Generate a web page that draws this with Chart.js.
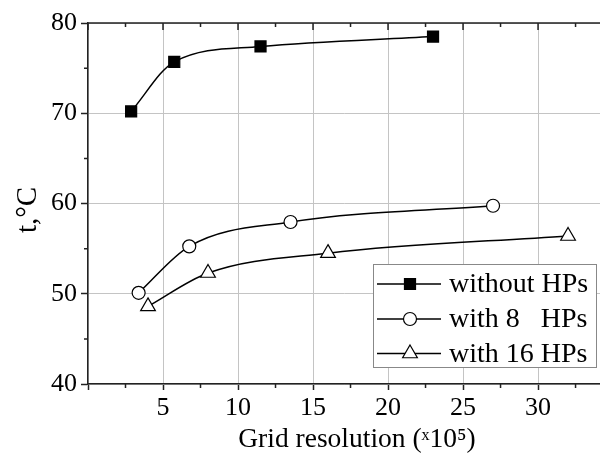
<!DOCTYPE html>
<html><head><meta charset="utf-8">
<script src="https://cdn.jsdelivr.net/npm/chart.js@4/dist/chart.umd.min.js"></script>
<style>html,body{margin:0;padding:0;background:#fff;overflow:hidden}#wrap{width:600px;height:454px;position:relative}</style>
</head><body><div id="wrap"><canvas id="c" width="600" height="454"></canvas></div>
<script>
// ---- data ----
const seriesNames = ['without HPs', 'with 8   HPs', 'with 16 HPs'];
const xWithout = [2.875, 5.75, 11.5, 23];
const yWithout = [70.2, 75.7, 77.4, 78.5];
const xWith8 = [3.375, 6.75, 13.5, 27];
const yWith8 = [50.1, 55.25, 57.95, 59.75];
const xWith16 = [4, 8, 16, 32];
const yWith16 = [48.6, 52.3, 54.5, 56.4];
const xTicks = [0, 5, 10, 15, 20, 25, 30];
const xMinorTicks = [2.5, 7.5, 12.5, 17.5, 22.5, 27.5, 32.5];
const yTicks = [40, 50, 60, 70, 80];
const yMinorTicks = [45, 55, 65, 75];
const xTitle = 'Grid resolution (\u02E310\u2075)';
const yTitle = 't,\u00B0C';

const FONT = '"Liberation Serif", "Times New Roman", serif';
const AXIS = '#222';
const GRID = '#c4c4c4';

function pts(xs, ys) { return xs.map((v, i) => ({ x: v, y: ys[i] })); }

const styles = [
  { pointStyle: 'rect', radius: 7.8, fill: '#000' },
  { pointStyle: 'circle', radius: 6.5, fill: '#fff' },
  { pointStyle: 'triangle', radius: 8.5, fill: '#fff' }
];
const seriesData = [pts(xWithout, yWithout), pts(xWith8, yWith8), pts(xWith16, yWith16)];

const datasets = seriesData.map((d, i) => ({
  label: seriesNames[i],
  data: d,
  borderColor: '#000',
  borderWidth: 1.5,
  cubicInterpolationMode: 'monotone',
  pointStyle: styles[i].pointStyle,
  pointRadius: styles[i].radius,
  pointHoverRadius: styles[i].radius,
  pointBackgroundColor: styles[i].fill,
  pointBorderColor: '#000',
  pointBorderWidth: 1.2,
  fill: false
}));

function drawMarker(ctx, st, x, y) {
  ctx.fillStyle = st.fill;
  ctx.strokeStyle = '#000';
  ctx.lineWidth = 1.2;
  if (Chart.helpers && Chart.helpers.drawPoint) {
    Chart.helpers.drawPoint(ctx, { pointStyle: st.pointStyle, radius: st.radius, borderWidth: 1.2, rotation: 0 }, x, y);
  }
}

const decor = {
  id: 'decor',
  afterDraw(chart) {
    const { ctx, chartArea: a, scales: { x, y } } = chart;
    ctx.save();
    ctx.strokeStyle = AXIS;
    ctx.lineWidth = 1.5;
    ctx.beginPath();
    ctx.moveTo(a.left - 0.75, a.top); ctx.lineTo(a.right, a.top);
    xTicks.forEach(v => { const p = x.getPixelForValue(v); ctx.moveTo(p, a.top); ctx.lineTo(p, a.top + 7); });
    xMinorTicks.forEach(v => { const p = x.getPixelForValue(v); if (p <= a.right) { ctx.moveTo(p, a.top); ctx.lineTo(p, a.top + 4); ctx.moveTo(p, a.bottom); ctx.lineTo(p, a.bottom + 4); } });
    yMinorTicks.forEach(v => { const p = y.getPixelForValue(v); ctx.moveTo(a.left, p); ctx.lineTo(a.left - 4, p); });
    ctx.stroke();

    // legend
    const L = { left: 373, top: 264, right: 596, bottom: 367 };
    ctx.fillStyle = '#fff';
    ctx.fillRect(L.left, L.top, L.right - L.left, L.bottom - L.top);
    ctx.strokeStyle = '#888';
    ctx.lineWidth = 1;
    ctx.strokeRect(L.left + 0.5, L.top + 0.5, L.right - L.left, L.bottom - L.top);
    const rows = [284, 319, 353.5];
    ctx.font = '28px ' + FONT;
    ctx.textBaseline = 'middle';
    ctx.textAlign = 'left';
    rows.forEach((ry, i) => {
      ctx.strokeStyle = '#000';
      ctx.lineWidth = 1.5;
      ctx.beginPath(); ctx.moveTo(377, ry); ctx.lineTo(441, ry); ctx.stroke();
      drawMarker(ctx, styles[i], 410, ry);
      ctx.fillStyle = '#000';
      ctx.fillText(seriesNames[i], 449, ry + 1);
    });

    // axis titles
    ctx.fillStyle = '#000';
    ctx.font = '27.5px ' + FONT;
    ctx.textAlign = 'center';
    ctx.textBaseline = 'alphabetic';
    ctx.fillText(xTitle, 357, 447);
    ctx.save();
    ctx.translate(36, 210);
    ctx.rotate(-Math.PI / 2);
    ctx.font = '29px ' + FONT;
    ctx.fillText(yTitle, 0, 0);
    ctx.restore();
    ctx.restore();
  }
};

new Chart(document.getElementById('c'), {
  type: 'line',
  data: { datasets },
  plugins: [decor],
  options: {
    responsive: false,
    animation: false,
    events: [],
    layout: { autoPadding: false, padding: { top: 23, right: 0, bottom: 0, left: 0 } },
    plugins: { legend: { display: false }, tooltip: { enabled: false } },
    scales: {
      x: {
        type: 'linear',
        min: 0,
        max: 34.13,
        afterBuildTicks: s => { s.ticks = xTicks.map(v => ({ value: v })); },
        afterFit: s => { s.height = 70; s.paddingLeft = 0; s.paddingRight = 0; },
        ticks: {
          color: '#000', font: { family: FONT, size: 26 }, padding: 3,
          callback: v => (v === 0 ? '' : String(v)), maxRotation: 0, autoSkip: false
        },
        grid: { color: GRID, lineWidth: 1, tickLength: 6, tickColor: AXIS, tickWidth: 1.5 },
        border: { color: AXIS, width: 1.5 }
      },
      y: {
        min: 40,
        max: 80,
        afterBuildTicks: s => { s.ticks = yTicks.map(v => ({ value: v })); },
        afterFit: s => { s.width = 88; },
        ticks: { color: '#000', font: { family: FONT, size: 26 }, padding: 4 },
        grid: { color: GRID, lineWidth: 1, tickLength: 7, tickColor: AXIS, tickWidth: 1.5 },
        border: { color: AXIS, width: 1.5 }
      }
    }
  }
});
</script></body></html>
